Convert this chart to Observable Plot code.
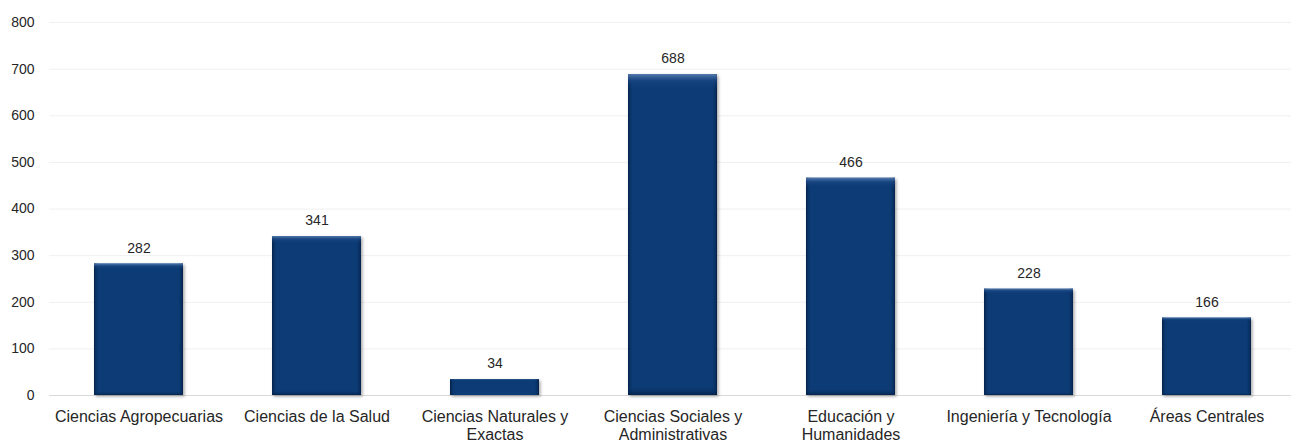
<!DOCTYPE html>
<html>
<head>
<meta charset="utf-8">
<script src="https://cdn.jsdelivr.net/npm/d3@7"></script>
<script src="https://cdn.jsdelivr.net/npm/@observablehq/plot@0.6"></script>
<style>
  html, body { margin: 0; padding: 0; background: #fff; }
  #chart { width: 1291px; height: 445px; }
</style>
</head>
<body>
<div id="chart"></div>
<script>
const categories = [
  "Ciencias Agropecuarias",
  "Ciencias de la Salud",
  "Ciencias Naturales y\nExactas",
  "Ciencias Sociales y\nAdministrativas",
  "Educación y\nHumanidades",
  "Ingeniería y Tecnología",
  "Áreas Centrales"
];
const values = [282, 341, 34, 688, 466, 228, 166];
const yTicks = [0, 100, 200, 300, 400, 500, 600, 700, 800];

const data = categories.map((c, i) => ({category: c, value: values[i]}));

const chart = Plot.plot({
  width: 1291,
  height: 445,
  marginTop: 22,
  marginBottom: 50,
  marginLeft: 49,
  marginRight: 0,
  style: {fontFamily: "Arial, 'Liberation Sans', sans-serif", color: "#262626", background: "#fff"},
  x: {domain: categories, range: [48.8, 1297], paddingInner: 0.5, paddingOuter: 0.25, align: 0.5},
  y: {domain: [0, 800]},
  marks: [
    Plot.ruleY(yTicks.filter(d => d > 0), {stroke: "#f0f0f0", strokeWidth: 1}),
    Plot.ruleY([0], {stroke: "#d9d9d9", strokeWidth: 1}),
    Plot.barY(data, {x: "category", y: "value", fill: "#0b3a74", className: "bar-main"}),
    Plot.barY(data, {x: "category", y: "value", fill: "url(#edgeGrad)"}),
    Plot.barY(data, {x: "category", y: "value", fill: "url(#topGrad)"}),
    Plot.text(data, {x: "category", y: "value", text: d => String(d.value), dy: -16, fontSize: 14, fill: "#262626"}),
    Plot.axisY({ticks: yTicks, tickSize: 0, tickPadding: 15, fontSize: 14, label: null}),
    Plot.axisX({tickSize: 0, tickPadding: 13, fontSize: 16, lineHeight: 1.15, label: null})
  ]
});

const svg = d3.select(chart);
const defs = svg.insert("defs", ":first-child");
const eg = defs.append("linearGradient").attr("id", "edgeGrad").attr("x1", 0).attr("x2", 1).attr("y1", 0).attr("y2", 0);
eg.append("stop").attr("offset", "0%").attr("stop-color", "#041f45").attr("stop-opacity", 0.9);
eg.append("stop").attr("offset", "6%").attr("stop-color", "#0b3a74").attr("stop-opacity", 0);
eg.append("stop").attr("offset", "94%").attr("stop-color", "#0b3a74").attr("stop-opacity", 0);
eg.append("stop").attr("offset", "100%").attr("stop-color", "#041f45").attr("stop-opacity", 0.9);
const tg = defs.append("linearGradient").attr("id", "topGrad").attr("x1", 0).attr("x2", 0).attr("y1", 0).attr("y2", 1).attr("gradientUnits", "objectBoundingBox");
tg.append("stop").attr("offset", "0%").attr("stop-color", "#5c82b5").attr("stop-opacity", 0.9);
tg.append("stop").attr("offset", "2%").attr("stop-color", "#1f4c88").attr("stop-opacity", 0.6);
tg.append("stop").attr("offset", "5%").attr("stop-color", "#0b3a74").attr("stop-opacity", 0);
tg.append("stop").attr("offset", "97%").attr("stop-color", "#0b3a74").attr("stop-opacity", 0);
tg.append("stop").attr("offset", "100%").attr("stop-color", "#041f45").attr("stop-opacity", 0.8);
const f = defs.append("filter").attr("id", "shadow").attr("x", "-10%").attr("y", "-10%").attr("width", "130%").attr("height", "130%");
f.append("feDropShadow").attr("dx", 1.5).attr("dy", 1.5).attr("stdDeviation", 1.5).attr("flood-color", "#000").attr("flood-opacity", 0.35);
svg.selectAll(".bar-main rect").attr("filter", "url(#shadow)");

document.getElementById("chart").appendChild(chart);
</script>
</body>
</html>
